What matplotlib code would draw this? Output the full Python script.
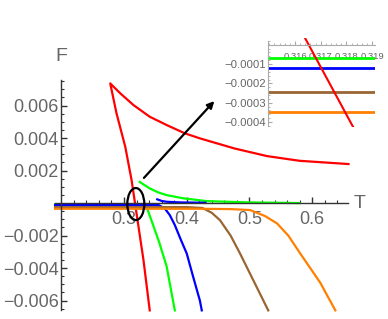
import matplotlib.pyplot as plt
from matplotlib.patches import Ellipse
from matplotlib.ticker import MultipleLocator, FixedLocator

plt.rcParams['font.family'] = ['Liberation Sans', 'DejaVu Sans']

# data (T, F)
red_T = [0.341, 0.331, 0.3175, 0.312, 0.302, 0.288, 0.278, 0.294, 0.315, 0.341,
         0.368, 0.397, 0.421, 0.476, 0.528, 0.58, 0.658]
red_F = [-0.0066, -0.0035, 0.0, 0.00142, 0.00346, 0.00552, 0.00736, 0.00675, 0.00603, 0.00531,
         0.0048, 0.00429, 0.00398, 0.00336, 0.00289, 0.0026, 0.0024]

green_lo_T = [0.19, 0.32, 0.332, 0.337, 0.345, 0.356, 0.368, 0.381]
green_lo_F = [-0.00007, -0.00007, -0.00013, -0.00035, -0.0012, -0.0024, -0.0039, -0.0066]
green_up_T = [0.325, 0.341, 0.355, 0.368, 0.395, 0.432, 0.5, 0.58]
green_up_F = [0.0013, 0.0009, 0.00065, 0.00049, 0.00029, 0.00012, 0.00004, 0.0]

blue_lo_T = [0.19, 0.355, 0.365, 0.373, 0.381, 0.39, 0.4, 0.41, 0.421, 0.424]
blue_lo_F = [-0.00012, -0.00012, -0.00033, -0.00074, -0.00135, -0.0022, -0.0031, -0.0045, -0.006, -0.0066]
blue_up_T = [0.353, 0.36, 0.368, 0.39, 0.43]
blue_up_F = [0.00023, 0.00013, 0.00008, 0.00004, 0.00002]

brown_T = [0.19, 0.40, 0.425, 0.44, 0.453, 0.47, 0.485, 0.512, 0.53]
brown_F = [-0.00025, -0.00025, -0.0003, -0.0006, -0.00105, -0.002, -0.0031, -0.0052, -0.0066]

orange_T = [0.19, 0.42, 0.47, 0.501, 0.525, 0.544, 0.562, 0.581, 0.613, 0.637]
orange_F = [-0.00035, -0.00035, -0.00037, -0.00043, -0.0008, -0.00125, -0.002, -0.0031, -0.0049, -0.0066]

# inset (zoom near T ~ 0.317)
ins_T = [0.31495, 0.31911]
ins_green = -0.000069
ins_blue = -0.00012
ins_brown = -0.000245
ins_orange = -0.00035
ins_red_T = [0.31639, 0.31826]
ins_red_F = [0.000035, -0.000426]

c_red = '#ff0000'
c_green = '#00ff00'
c_blue = '#0000ff'
c_brown = '#996633'
c_orange = '#ff8000'
gray = '#666666'
axcol = '#333333'

fig = plt.figure(figsize=(3.88, 3.19), dpi=100)
ax = fig.add_axes([0, 0, 1, 1])
ax.set_xlim(0.1022, 0.721)
ax.set_ylim(-0.00713, 0.01249)
ax.patch.set_alpha(0)

lw = 1.6
ax.plot(red_T, red_F, color=c_red, lw=lw)
ax.plot(green_up_T, green_up_F, color=c_green, lw=lw)
ax.plot(green_lo_T, green_lo_F, color=c_green, lw=lw)
ax.plot(blue_up_T, blue_up_F, color=c_blue, lw=lw)
ax.plot(blue_lo_T, blue_lo_F, color=c_blue, lw=lw)
ax.plot(brown_T, brown_F, color=c_brown, lw=lw)
ax.plot(orange_T, orange_F, color=c_orange, lw=lw)

for s in ['top', 'right']:
    ax.spines[s].set_visible(False)
ax.spines['left'].set_position(('data', 0.2))
ax.spines['bottom'].set_position(('data', 0))
ax.spines['left'].set_bounds(-0.0066, 0.0076)
ax.spines['bottom'].set_bounds(0.19, 0.658)
for s in ['left', 'bottom']:
    ax.spines[s].set_color(axcol)
    ax.spines[s].set_linewidth(1.0)

ax.xaxis.set_major_locator(FixedLocator([0.3, 0.4, 0.5, 0.6]))
ax.xaxis.set_minor_locator(FixedLocator([0.2 + 0.02 * i for i in range(23) if i % 5 != 0]))
ax.set_xticklabels(['0.3', '0.4', '0.5', '0.6'])
ax.yaxis.set_major_locator(FixedLocator([-0.006, -0.004, -0.002, 0.002, 0.004, 0.006]))
ax.yaxis.set_minor_locator(FixedLocator([-0.0065 + 0.0005 * i for i in range(29) if round((-0.0065 + 0.0005 * i) / 0.002, 6) % 1 != 0]))
ax.set_yticklabels(['\u22120.006', '\u22120.004', '\u22120.002', '0.002', '0.004', '0.006'])
ax.tick_params(which='both', direction='in', colors=axcol, labelcolor=gray, labelsize=13)
ax.tick_params(which='major', length=4, width=1)
ax.tick_params(which='minor', length=2, width=0.8)
ax.tick_params(axis='x', pad=6)
ax.tick_params(axis='y', pad=2)

ax.text(0.2, 0.009, 'F', color=gray, fontsize=14, ha='center', va='center')
ax.text(0.666, 0.0, 'T', color=gray, fontsize=14, ha='left', va='center')

ax.add_patch(Ellipse((0.3188, -0.00006), 0.0271, 0.00197, fill=False, ec='black', lw=1.6, zorder=5))
ax.annotate('', xy=(0.447, 0.0064), xytext=(0.3287, 0.00142),
            arrowprops=dict(arrowstyle='-|>', color='black', lw=1.6, mutation_scale=10), zorder=5)

# inset
ins = fig.add_axes([268 / 388, 1 - 127 / 319, 107 / 388, 89 / 319])
ins.patch.set_alpha(0)
ins.set_xlim(ins_T)
ins.set_ylim(-0.000426, 0.000035)
ins.plot(ins_T, [ins_green] * 2, color=c_green, lw=2)
ins.plot(ins_T, [ins_blue] * 2, color=c_blue, lw=2)
ins.plot(ins_T, [ins_brown] * 2, color=c_brown, lw=2)
ins.plot(ins_T, [ins_orange] * 2, color=c_orange, lw=2)
ins.plot(ins_red_T, ins_red_F, color=c_red, lw=1.5)
for s in ['top', 'right']:
    ins.spines[s].set_visible(False)
ins.spines['bottom'].set_position(('data', 0))
ins.spines['left'].set_bounds(-0.00042, 0.00002)
for s in ['left', 'bottom']:
    ins.spines[s].set_color('#aaaaaa')
    ins.spines[s].set_linewidth(0.8)
ins.xaxis.set_major_locator(FixedLocator([0.316, 0.317, 0.318, 0.319]))
ins.xaxis.set_minor_locator(MultipleLocator(0.0002))
ins.set_xticklabels(['0.316', '0.317', '0.318', '0.319'])
ins.yaxis.set_major_locator(FixedLocator([-0.0001, -0.0002, -0.0003, -0.0004]))
ins.yaxis.set_minor_locator(MultipleLocator(0.00002))
ins.set_yticklabels(['\u22120.0001', '\u22120.0002', '\u22120.0003', '\u22120.0004'])
ins.tick_params(which='both', direction='in', colors='#aaaaaa', labelcolor=gray, labelsize=8.2)
ins.tick_params(axis='x', labelsize=6.8)
ins.tick_params(which='major', length=3, width=0.8)
ins.tick_params(which='minor', length=1.5, width=0.6)
ins.tick_params(axis='x', pad=5)
ins.tick_params(axis='y', pad=1.5)

fig.savefig('out.png', dpi=100)
